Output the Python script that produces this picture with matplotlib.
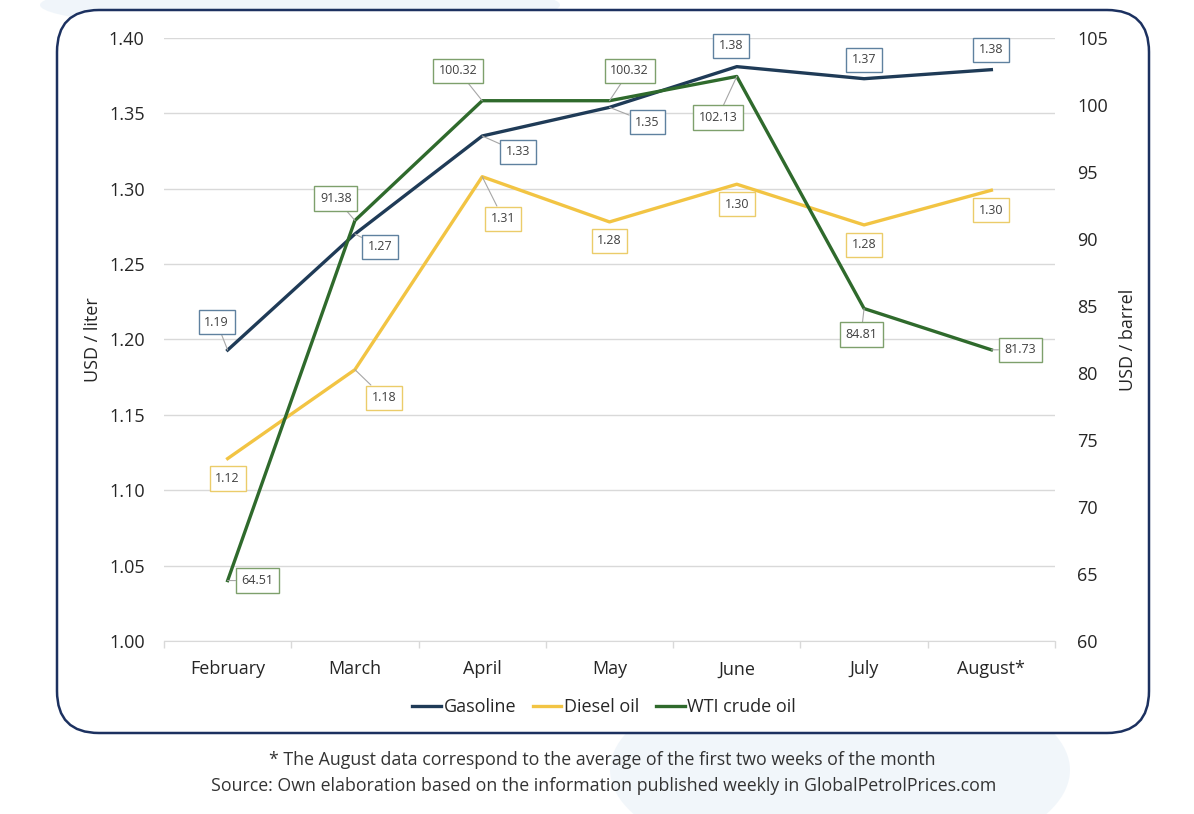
import matplotlib.pyplot as plt
from matplotlib.patches import FancyBboxPatch, Ellipse

months = ["February", "March", "April", "May", "June", "July", "August*"]
gasoline = [1.193, 1.270, 1.335, 1.354, 1.381, 1.373, 1.379]
diesel = [1.121, 1.180, 1.308, 1.278, 1.303, 1.276, 1.299]
wti = [64.51, 91.38, 100.32, 100.32, 102.13, 84.81, 81.73]
gasoline_labels = ["1.19", "1.27", "1.33", "1.35", "1.38", "1.37", "1.38"]
diesel_labels = ["1.12", "1.18", "1.31", "1.28", "1.30", "1.28", "1.30"]
wti_labels = ["64.51", "91.38", "100.32", "100.32", "102.13", "84.81", "81.73"]

# label offsets in pixels (dx right, dy up)
gas_off = [(-11, 28), (25, -13), (36, -16), (38, -15), (-6, 21), (0, 19), (0, 20)]
dsl_off = [(0, -20), (29, -28), (21, -42), (0, -19), (0, -20), (0, -20), (0, -20)]
wti_off = [(30, 0), (-19, 22), (-24, 30), (20, 30), (-19, -41), (-3, -26), (29, 0)]

C_GAS = "#1f3b57"
C_DSL = "#f2c443"
C_WTI = "#2f6a2c"
E_GAS = "#5f819f"
E_DSL = "#ebcc6a"
E_WTI = "#7ea06c"

plt.rcParams["font.family"] = ["Open Sans", "DejaVu Sans"]

W, H = 1194, 814
fig = plt.figure(figsize=(W / 100, H / 100), dpi=100)
fig.patch.set_facecolor("white")

# faint watermark patches (pixel coords measured from the top)
fig.patches.append(Ellipse((300, H - 5), 520, 50, transform=None, facecolor="#eaf2f9",
                           edgecolor="none", alpha=0.7, zorder=-3))
fig.patches.append(Ellipse((840, H - 770), 460, 200, transform=None, facecolor="#e9f1f8",
                           edgecolor="none", alpha=0.6, zorder=-3))

border = FancyBboxPatch((0.57, 0.81), 10.92, 7.23, boxstyle="round,pad=0,rounding_size=0.42",
                        transform=fig.dpi_scale_trans, facecolor="white",
                        edgecolor="#1c3160", linewidth=1.8, zorder=-2)
fig.patches.append(border)

ax = fig.add_axes([164 / W, 1 - 641 / H, 891 / W, 603 / H])
ax.set_facecolor("none")
ax2 = ax.twinx()
ax2.set_facecolor("none")

x = list(range(len(months)))
ax.plot(x, gasoline, color=C_GAS, lw=2.4, label="Gasoline", zorder=3)
ax.plot(x, diesel, color=C_DSL, lw=2.4, label="Diesel oil", zorder=3)
ax2.plot(x, wti, color=C_WTI, lw=2.4, label="WTI crude oil", zorder=3)

ax.set_xlim(-0.5, 6.5)
ax.set_ylim(1.00, 1.40)
ax2.set_ylim(60, 105)
ax.set_yticks([1.00 + 0.05 * i for i in range(9)])
ax.set_yticklabels([f"{1.00 + 0.05 * i:.2f}" for i in range(9)])
ax2.set_yticks(list(range(60, 106, 5)))
ax.set_xticks(x)
ax.set_xticklabels(months)
ax.set_xticks([i - 0.5 for i in range(8)], minor=True)

ax.grid(axis="y", color="#d9d9d9", lw=1)
ax.set_axisbelow(True)
for a in (ax, ax2):
    for s in a.spines.values():
        s.set_visible(False)
ax.spines["bottom"].set_visible(True)
ax.spines["bottom"].set_color("#d9d9d9")

ax.tick_params(axis="y", length=0, pad=14, labelsize=13, colors="#262626")
ax2.tick_params(axis="y", length=0, pad=16, labelsize=13, colors="#262626")
ax.tick_params(axis="x", which="major", length=0, pad=14, labelsize=13, colors="#262626")
ax.tick_params(axis="x", which="minor", length=5, color="#d9d9d9", width=1)

ax.set_ylabel("USD / liter", fontsize=13, color="#262626")
ax.yaxis.set_label_coords(-0.07, 0.5)
ax2.set_ylabel("USD / barrel", fontsize=13, color="#262626")
ax2.yaxis.set_label_coords(1.072, 0.5)


def add_labels(values, texts, offsets, edge, trans):
    for i, (v, t, (dx, dy)) in enumerate(zip(values, texts, offsets)):
        far = (dx * dx + dy * dy) ** 0.5 > 24
        ax2.annotate(t, xy=(i, v), xycoords=trans, xytext=(dx, dy),
                     textcoords="offset pixels", ha="center", va="center",
                     fontsize=9, color="#404040", zorder=6,
                     bbox=dict(boxstyle="square,pad=0.45", facecolor="white",
                               edgecolor=edge, linewidth=1),
                     arrowprops=dict(arrowstyle="-", color="#a6a6a6", lw=0.8,
                                     shrinkA=0, shrinkB=0) if far else None)


add_labels(gasoline, gasoline_labels, gas_off, E_GAS, ax.transData)
add_labels(diesel, diesel_labels, dsl_off, E_DSL, ax.transData)
add_labels(wti, wti_labels, wti_off, E_WTI, ax2.transData)

h1, l1 = ax.get_legend_handles_labels()
h2, l2 = ax2.get_legend_handles_labels()
fig.legend(h1 + h2, l1 + l2, loc="center", bbox_to_anchor=(604 / W, 1 - 707 / H),
           ncol=3, frameon=False, fontsize=13, handlelength=1.6, handletextpad=0.15,
           columnspacing=0.9, labelcolor="#262626")

fig.text(602 / W, 1 - 760 / H,
         "* The August data correspond to the average of the first two weeks of the month",
         ha="center", va="center", fontsize=12.8, color="#333333")
fig.text(604 / W, 1 - 786 / H,
         "Source: Own elaboration based on the information published weekly in GlobalPetrolPrices.com",
         ha="center", va="center", fontsize=12.8, color="#333333")

fig.savefig("out.png", dpi=100)
